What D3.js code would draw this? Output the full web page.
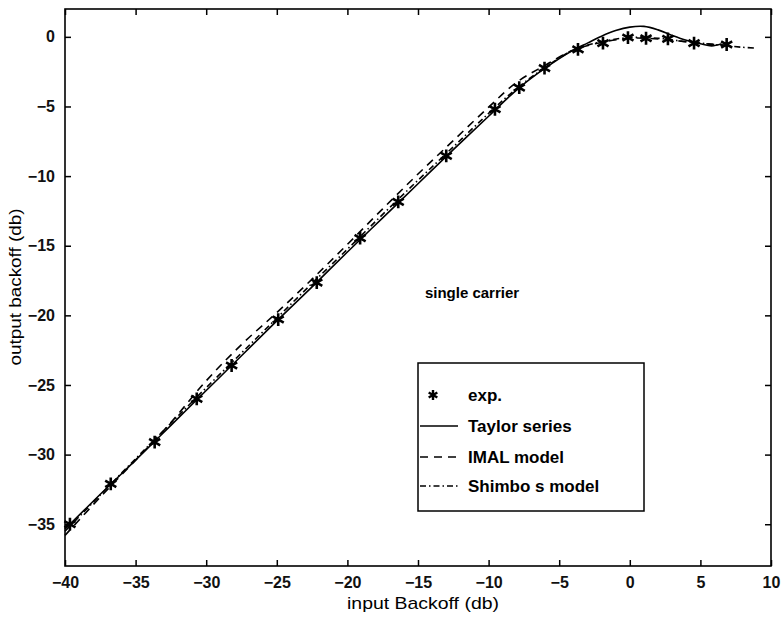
<!DOCTYPE html>
<html>
<head>
<meta charset="utf-8">
<script src="https://cdn.jsdelivr.net/npm/d3@7"></script>
<style>
  body { margin: 0; background: #fff; }
</style>
</head>
<body>
<div id="chart"></div>
<script>
// measured points (exp.)
var expX = [-39.65, -36.76, -33.65, -30.67, -28.2, -24.9, -22.17, -19.1, -16.4, -13.0, -9.55, -7.83, -6.04, -3.67, -1.9, -0.13, 1.15, 2.7, 4.55, 6.86];
var expY = [-35.0, -32.1, -29.1, -26.0, -23.6, -20.3, -17.65, -14.45, -11.85, -8.55, -5.2, -3.65, -2.25, -0.9, -0.45, -0.05, -0.1, -0.15, -0.45, -0.55];

// Taylor series (solid)
var taylorX = [-40, -37.5, -35, -32.5, -30, -27.5, -25, -22.5, -20, -17.5, -15, -12.5, -10, -8, -6, -4, -3, -2, -1, 0, 1, 2, 3, 4, 5, 5.8, 6.5];
var taylorY = [-35.35, -32.85, -30.4, -27.9, -25.4, -22.9, -20.4, -17.95, -15.45, -13.0, -10.55, -8.1, -5.7, -3.8, -2.25, -0.95, -0.45, 0.05, 0.45, 0.7, 0.75, 0.5, 0.1, -0.25, -0.5, -0.65, -0.5];

// IMAL model (dashed)
var imalX = [-40, -37.5, -35, -32.5, -30, -27.5, -25, -22.5, -20, -17.5, -15, -12.5, -10, -8, -6, -4, -2, 0, 2, 4, 6, 7];
var imalY = [-35.8, -33.05, -30.4, -27.7, -24.7, -22.1, -19.8, -17.4, -14.9, -12.35, -9.85, -7.45, -5.05, -3.25, -2.05, -0.95, -0.4, -0.1, -0.15, -0.35, -0.55, -0.6];

// Shimbo's model (dash-dot)
var shimboX = [-40, -37.5, -35, -32.5, -30, -27.5, -25, -22.5, -20, -17.5, -15, -12.5, -10, -8, -6, -4, -2, 0, 2, 4, 6, 8, 8.8];
var shimboY = [-35.5, -32.9, -30.3, -27.75, -25.2, -22.7, -20.2, -17.7, -15.25, -12.75, -10.3, -7.9, -5.5, -3.7, -2.2, -0.95, -0.35, -0.05, -0.1, -0.35, -0.55, -0.75, -0.8];

var xTicks = [-40, -35, -30, -25, -20, -15, -10, -5, 0, 5, 10];
var yTicks = [-35, -30, -25, -20, -15, -10, -5, 0];
var legendLabels = ["exp.", "Taylor series", "IMAL model", "Shimbo s model"];

var width = 783, height = 617;
var plotLeft = 65, plotRight = 771, plotTop = 9, plotBottom = 566;
var font = "'Liberation Sans', Arial, sans-serif";
var tickLen = 6;

var svg = d3.select("#chart").append("svg")
  .attr("width", width)
  .attr("height", height);

var x_scale = d3.scaleLinear().domain([-40, 10]).range([plotLeft, plotRight]);
var y_scale = d3.scaleLinear().domain([-38, 2]).range([plotBottom, plotTop]);

var minus = d => d < 0 ? "\u2212" + Math.abs(d) : d;

// axes, ticks pointing inward on all four sides
svg.append("g")
  .attr("transform", "translate(0," + plotBottom + ")")
  .call(d3.axisBottom(x_scale).tickValues(xTicks).tickSize(-tickLen).tickPadding(tickLen + 5).tickFormat(minus));
svg.append("g")
  .attr("transform", "translate(0," + plotTop + ")")
  .call(d3.axisTop(x_scale).tickValues(xTicks).tickSize(-tickLen).tickFormat(""));
svg.append("g")
  .attr("transform", "translate(" + plotLeft + ",0)")
  .call(d3.axisLeft(y_scale).tickValues(yTicks).tickSize(-tickLen).tickPadding(tickLen + 4).tickFormat(minus));
svg.append("g")
  .attr("transform", "translate(" + plotRight + ",0)")
  .call(d3.axisRight(y_scale).tickValues(yTicks).tickSize(-tickLen).tickFormat(""));

svg.selectAll(".domain").remove();
svg.selectAll(".tick line").style("stroke", "#000").style("stroke-width", 1.5);
svg.selectAll(".tick text")
  .style("font-family", font)
  .style("font-size", "16px")
  .style("font-weight", "bold")
  .style("fill", "#111");

svg.append("rect")
  .attr("x", plotLeft).attr("y", plotTop)
  .attr("width", plotRight - plotLeft).attr("height", plotBottom - plotTop)
  .style("fill", "none").style("stroke", "#000").style("stroke-width", 1.6);

function toPts(xs, ys) {
  return xs.map((d, i) => [d, ys[i]]);
}

var line = d3.line()
  .x(d => x_scale(d[0]))
  .y(d => y_scale(d[1]))
  .curve(d3.curveCatmullRom);

var series = [
  {pts: toPts(taylorX, taylorY), dash: null},
  {pts: toPts(imalX, imalY), dash: "8,6"},
  {pts: toPts(shimboX, shimboY), dash: "6,3,1.5,3"}
];

series.forEach(function(s) {
  svg.append("path")
    .attr("d", line(s.pts))
    .style("fill", "none")
    .style("stroke", "#000")
    .style("stroke-width", 1.6)
    .style("stroke-dasharray", s.dash);
});

var star = d3.symbol().type(d3.symbolAsterisk).size(115);
svg.selectAll(".star")
  .data(toPts(expX, expY))
  .enter().append("path")
  .attr("class", "star")
  .attr("transform", d => "translate(" + x_scale(d[0]) + "," + y_scale(d[1]) + ")")
  .attr("d", star)
  .style("fill", "none")
  .style("stroke", "#000")
  .style("stroke-width", 2.6);

// annotation
svg.append("text")
  .attr("x", 472).attr("y", 298)
  .style("text-anchor", "middle")
  .style("font-family", font)
  .style("font-size", "15px")
  .style("font-weight", "bold")
  .text("single carrier");

// legend
var lg = svg.append("g");
lg.append("rect")
  .attr("x", 418).attr("y", 363)
  .attr("width", 226).attr("height", 148)
  .style("fill", "#fff").style("stroke", "#000").style("stroke-width", 1.5);

var legendY = [395, 426, 457, 486];
var legendDash = [null, null, "8,6", "6,3,1.5,3"];
legendLabels.forEach(function(lab, i) {
  if (i === 0) {
    lg.append("path")
      .attr("transform", "translate(433," + legendY[i] + ")")
      .attr("d", d3.symbol().type(d3.symbolAsterisk).size(70)())
      .style("fill", "none").style("stroke", "#000").style("stroke-width", 2.4);
  } else {
    lg.append("line")
      .attr("x1", 420).attr("x2", 458)
      .attr("y1", legendY[i]).attr("y2", legendY[i])
      .style("stroke", "#000").style("stroke-width", 1.6)
      .style("stroke-dasharray", legendDash[i]);
  }
  lg.append("text")
    .attr("x", 468).attr("y", legendY[i] + 6)
    .style("font-family", font)
    .style("font-size", "17px")
    .style("font-weight", "bold")
    .text(lab);
});

// axis titles
svg.append("text")
  .attr("x", 423).attr("y", 609)
  .style("text-anchor", "middle")
  .style("font-family", font)
  .style("font-size", "17px")
  .attr("textLength", 152)
  .attr("lengthAdjust", "spacingAndGlyphs")
  .text("input Backoff (db)");

svg.append("text")
  .attr("transform", "translate(21," + 287 + ") rotate(-90)")
  .style("text-anchor", "middle")
  .style("font-family", font)
  .style("font-size", "16px")
  .attr("textLength", 157)
  .attr("lengthAdjust", "spacingAndGlyphs")
  .text("output backoff (db)");
</script>
</body>
</html>
